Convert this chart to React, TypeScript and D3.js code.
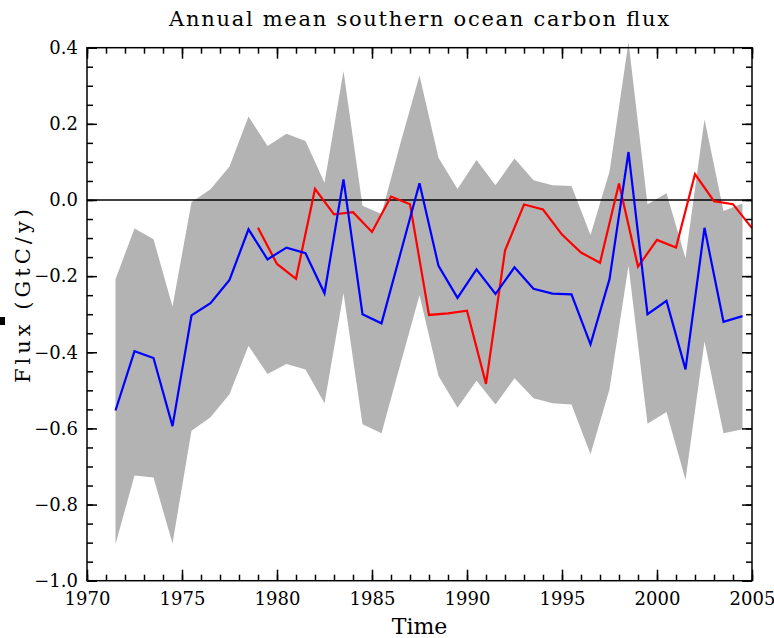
import React, { useEffect, useRef } from 'react';
import * as d3 from 'd3';

// years of the model mean and its spread (mid-year points)
const bandYears = [1971.5, 1972.5, 1973.5, 1974.5, 1975.5, 1976.5, 1977.5, 1978.5, 1979.5, 1980.5,
  1981.5, 1982.5, 1983.5, 1984.5, 1985.5, 1986.5, 1987.5, 1988.5, 1989.5, 1990.5,
  1991.5, 1992.5, 1993.5, 1994.5, 1995.5, 1996.5, 1997.5, 1998.5, 1999.5, 2000.5,
  2001.5, 2002.5, 2003.5, 2004.5];
const bandUpper = [-0.208, -0.075, -0.103, -0.280, -0.006, 0.028, 0.088, 0.219, 0.142, 0.174,
  0.155, 0.045, 0.339, -0.015, -0.037, 0.15, 0.327, 0.111, 0.029, 0.105,
  0.039, 0.109, 0.052, 0.039, 0.037, -0.092, 0.074, 0.415, -0.011, 0.018,
  -0.153, 0.212, -0.029, -0.009];
const bandLower = [-0.904, -0.724, -0.729, -0.902, -0.606, -0.571, -0.510, -0.383, -0.457, -0.431,
  -0.445, -0.534, -0.245, -0.589, -0.613, -0.43, -0.25, -0.462, -0.546, -0.475,
  -0.537, -0.468, -0.521, -0.534, -0.537, -0.668, -0.497, -0.173, -0.588, -0.557,
  -0.735, -0.372, -0.613, -0.602];
const blueValues = [-0.553, -0.397, -0.415, -0.594, -0.303, -0.271, -0.210, -0.077, -0.156, -0.125,
  -0.140, -0.245, 0.054, -0.300, -0.324, -0.14, 0.044, -0.173, -0.257, -0.182,
  -0.247, -0.177, -0.233, -0.246, -0.248, -0.379, -0.208, 0.126, -0.300, -0.265,
  -0.445, -0.073, -0.320, -0.305];

// second estimate (whole years)
const redYears = [1979, 1980, 1981, 1982, 1983, 1984, 1985, 1986, 1987, 1988, 1989, 1990, 1991,
  1992, 1993, 1994, 1995, 1996, 1997, 1998, 1999, 2000, 2001, 2002, 2003, 2004, 2005];
const redValues = [-0.073, -0.168, -0.207, 0.029, -0.038, -0.032, -0.084, 0.009, -0.011, -0.302,
  -0.298, -0.291, -0.483, -0.133, -0.012, -0.025, -0.091, -0.138, -0.165, 0.043,
  -0.175, -0.105, -0.125, 0.068, -0.003, -0.011, -0.074];

const xMajor = [1970, 1975, 1980, 1985, 1990, 1995, 2000, 2005];
const yMajor = [-1.0, -0.8, -0.6, -0.4, -0.2, 0.0, 0.2, 0.4];

export default function App() {
  const ref = useRef<SVGSVGElement>(null);

  useEffect(() => {
    const svg = d3.select(ref.current);
    svg.selectAll('*').remove();

    const width = 774;
    const height = 638;
    const left = 87, right = 752, top = 47.7, bottom = 580.7;
    const font = '"DejaVu Serif", serif';

    svg.attr('width', width).attr('height', height);

    const x = d3.scaleLinear().domain([1970, 2005]).range([left, right]);
    const y = d3.scaleLinear().domain([-1.0, 0.4]).range([bottom, top]);

    const band = bandYears.map((yr, i) => ({ yr, lo: bandLower[i], hi: bandUpper[i], mid: blueValues[i] }));

    // spread of the ensemble
    const area = d3.area<any>()
      .x(d => x(d.yr))
      .y0(d => y(d.lo))
      .y1(d => y(d.hi));
    svg.append('path')
      .datum(band)
      .attr('fill', '#b3b3b3')
      .attr('d', area);

    // zero line
    svg.append('line')
      .attr('x1', x(1970)).attr('x2', x(2005))
      .attr('y1', y(0)).attr('y2', y(0))
      .attr('stroke', 'black').attr('stroke-width', 1.5);

    const line = d3.line<any>().x(d => x(d[0])).y(d => y(d[1]));

    // clip the red one at the frame
    svg.append('clipPath').attr('id', 'plotclip')
      .append('rect').attr('x', left).attr('y', 0).attr('width', right - left).attr('height', height);

    svg.append('path')
      .datum(redYears.map((yr, i) => [yr, redValues[i]]))
      .attr('fill', 'none').attr('stroke', '#ff0000').attr('stroke-width', 2.2)
      .attr('clip-path', 'url(#plotclip)')
      .attr('d', line);

    svg.append('path')
      .datum(band.map(d => [d.yr, d.mid]))
      .attr('fill', 'none').attr('stroke', '#0000ff').attr('stroke-width', 2.2)
      .attr('d', line);

    // axes with inward ticks
    const styleAxis = (g: any) => {
      g.select('.domain').remove();
      g.selectAll('line').attr('stroke', 'black').attr('stroke-width', 1.5);
      g.selectAll('text').attr('fill', 'black');
      g.attr('font-family', font).attr('font-size', 18);
    };

    svg.append('g').attr('transform', `translate(0,${bottom})`)
      .call(d3.axisBottom(x).tickValues(d3.range(1970, 2006, 1)).tickSize(-6).tickFormat(() => ''))
      .call(styleAxis);
    svg.append('g').attr('transform', `translate(0,${bottom})`)
      .call(d3.axisBottom(x).tickValues(xMajor).tickSize(-11).tickPadding(12).tickFormat(d3.format('d')))
      .call(styleAxis);
    svg.append('g').attr('transform', `translate(0,${top})`)
      .call(d3.axisTop(x).tickValues(d3.range(1970, 2006, 1)).tickSize(-6).tickFormat(() => ''))
      .call(styleAxis);
    svg.append('g').attr('transform', `translate(0,${top})`)
      .call(d3.axisTop(x).tickValues(xMajor).tickSize(-11).tickFormat(() => ''))
      .call(styleAxis);

    const yMinor = d3.range(-1.0, 0.4001, 0.05);
    svg.append('g').attr('transform', `translate(${left},0)`)
      .call(d3.axisLeft(y).tickValues(yMinor).tickSize(-6).tickFormat(() => ''))
      .call(styleAxis);
    svg.append('g').attr('transform', `translate(${left},0)`)
      .call(d3.axisLeft(y).tickValues(yMajor).tickSize(-10).tickPadding(9).tickFormat(d3.format('.1f')))
      .call(styleAxis);
    svg.append('g').attr('transform', `translate(${right},0)`)
      .call(d3.axisRight(y).tickValues(yMinor).tickSize(-6).tickFormat(() => ''))
      .call(styleAxis);
    svg.append('g').attr('transform', `translate(${right},0)`)
      .call(d3.axisRight(y).tickValues(yMajor).tickSize(-10).tickFormat(() => ''))
      .call(styleAxis);

    // frame
    svg.append('rect')
      .attr('x', left).attr('y', top)
      .attr('width', right - left).attr('height', bottom - top)
      .attr('fill', 'none').attr('stroke', 'black').attr('stroke-width', 1.5);

    // titles
    svg.append('text')
      .attr('x', 419).attr('y', 26)
      .attr('text-anchor', 'middle')
      .attr('font-family', font).attr('font-size', 21)
      .attr('textLength', 500).attr('lengthAdjust', 'spacing')
      .text('Annual mean southern ocean carbon flux');

    svg.append('text')
      .attr('x', 419.5).attr('y', 634)
      .attr('text-anchor', 'middle')
      .attr('font-family', font).attr('font-size', 22)
      .text('Time');

    svg.append('text')
      .attr('transform', 'translate(30,296) rotate(-90)')
      .attr('text-anchor', 'middle')
      .attr('font-family', font).attr('font-size', 21)
      .attr('textLength', 174).attr('lengthAdjust', 'spacing')
      .text('Flux (GtC/y)');

    // stray mark at the left edge
    svg.append('rect')
      .attr('x', 0).attr('y', 317).attr('width', 5).attr('height', 8)
      .attr('fill', 'black');
  }, []);

  return (
    <svg ref={ref} style={{ position: 'absolute', left: 0, top: 0, background: 'white' }}></svg>
  );
}
